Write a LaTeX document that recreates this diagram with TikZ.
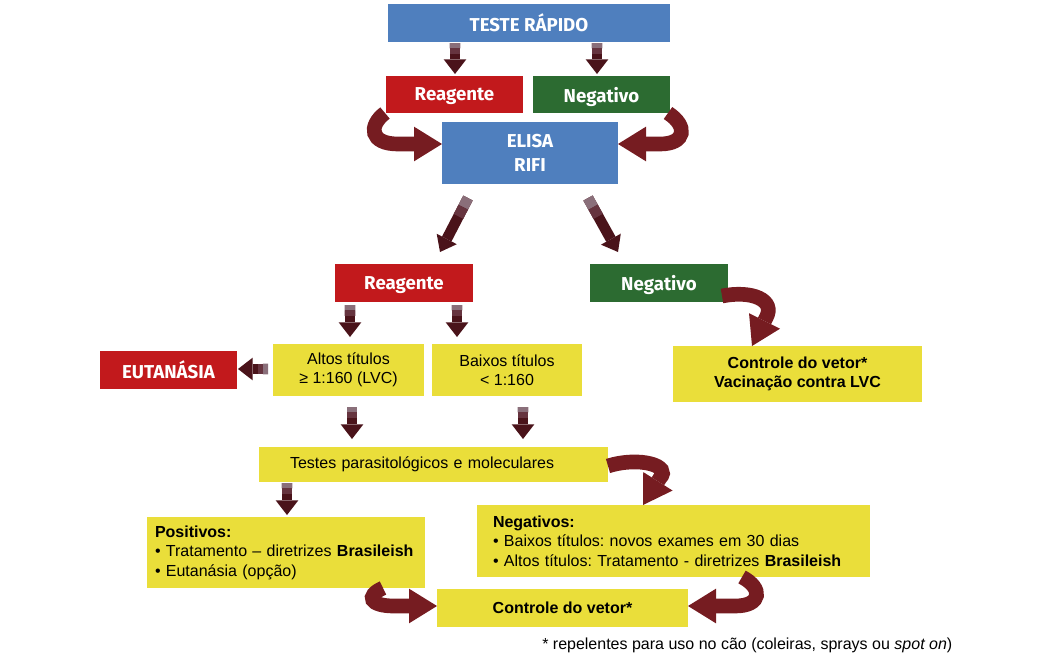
\documentclass[tikz,border=0pt]{standalone}
\usepackage{fontspec}
\setmainfont{Liberation Sans}
\newfontfamily\hfont{Fira Sans}
\usetikzlibrary{arrows.meta,calc}
\definecolor{bblue}{HTML}{4F7FBE}
\definecolor{bred}{HTML}{C2191C}
\definecolor{bgreen}{HTML}{2C6B31}
\definecolor{byellow}{HTML}{EADE3A}
\definecolor{arrd}{HTML}{4A131A}
\definecolor{arrtop}{HTML}{8A6F7A}
\definecolor{arrmid}{HTML}{66343F}
\definecolor{carr}{HTML}{761C21}
\frenchspacing
\newcommand{\mybox}[7]{\node[#6, minimum width={(#4-#2)*0.75pt}, minimum height={(#5-#3)*0.75pt}] (#1) at ({(#2+#4)/2},{(#3+#5)/2}) {#7};}
\newcommand{\sarr}[2]{\draw[sarrow] (#1) -- (#2); \draw[stemtop] (#1) -- ($(#1)!0.17!(#2)$); \draw[stemmid] ($(#1)!0.17!(#2)$) -- ($(#1)!0.34!(#2)$);}
\begin{document}
\begin{tikzpicture}[x=0.75pt,y=-0.75pt,
  hdr/.style={font=\hfont\bfseries\fontsize{14}{18}\selectfont, text=white, inner sep=0pt, outer sep=0pt, align=center},
  blueb/.style={hdr, fill=bblue},
  redb/.style={hdr, fill=bred, text depth=0pt},
  greenb/.style={hdr, fill=bgreen, text depth=0pt},
  ybox/.style={fill=byellow, font=\fontsize{12}{14.6}\selectfont, text=black, inner sep=0pt, outer sep=0pt, align=center},
  ylist/.style={ybox, align=left},
  sarrow/.style={draw=arrd, line width=8pt, -{Triangle[width=17pt,length=11pt,line width=0pt]}},
  stemtop/.style={draw=arrtop, line width=8pt},
  stemmid/.style={draw=arrmid, line width=8pt},
  carrow/.style={draw=carr, line width=11pt, -{Triangle[width=26pt,length=21pt,line width=0pt]}},
  foot/.style={font=\fontsize{12}{14}\selectfont, text=black, inner sep=0pt, anchor=west}
]
\useasboundingbox (0,0) rectangle (1063,661);
% boxes
\mybox{teste}{388}{4}{670}{42}{blueb}{TESTE RÁPIDO}
\mybox{reag1}{386}{76}{523}{113}{redb}{Reagente}
\mybox{neg1}{533}{76}{670}{113}{greenb}{Negativo}
\mybox{elisa}{442}{122}{618}{184}{blueb}{ELISA\\RIFI}
\mybox{reag2}{335}{264}{473}{302}{redb}{Reagente}
\mybox{neg2}{590}{264}{728}{302}{greenb}{Negativo}
\mybox{eut}{100}{351}{237}{389}{redb}{EUTANÁSIA}
\mybox{altos}{273}{344}{424}{396}{ybox}{Altos títulos\\≥ 1:160 (LVC)}
\mybox{baixos}{432}{344}{582}{396}{ybox}{Baixos títulos\\< 1:160}
\mybox{vac}{673}{346}{922}{402}{ybox, font=\bfseries\fontsize{12}{14}\selectfont}{Controle do vetor*\\Vacinação contra LVC}
\mybox{testes}{259}{447}{608}{482}{ylist, text width={287*0.75pt}}{Testes parasitológicos e moleculares}
\mybox{pos}{147}{517}{425}{588}{ylist, text width={262*0.75pt}}{\textbf{Positivos:}\\• Tratamento – diretrizes \textbf{Brasileish}\\• Eutanásia (opção)}
\mybox{negs}{477}{505}{870}{577}{ylist, text width={361*0.75pt}}{\textbf{Negativos:}\\• Baixos títulos: novos exames em 30 dias\\• Altos títulos: Tratamento - diretrizes \textbf{Brasileish}}
\mybox{ctrl}{437}{589}{688}{627}{ybox, font=\bfseries\fontsize{12}{14}\selectfont}{Controle do vetor*}
\node[foot] (note) at (542,645) {* repelentes para uso no cão (coleiras, sprays ou \textit{spot on})};
% straight arrows
\coordinate (a1s) at ($(455,0|-teste.south)+(0,1)$);
\coordinate (a1e) at ($(455,0|-reag1.north)+(0,-2)$);
\coordinate (a2s) at ($(597,0|-teste.south)+(0,1)$);
\coordinate (a2e) at ($(597,0|-neg1.north)+(0,-2)$);
\coordinate (a3s) at ($(elisa.south)+(-62,14)$);
\coordinate (a3e) at ($(reag2.north)+(36,-12)$);
\coordinate (a4s) at ($(elisa.south)+(58,14)$);
\coordinate (a4e) at ($(neg2.north)+(-41,-12)$);
\coordinate (a5s) at ($(350,0|-reag2.south)+(0,3)$);
\coordinate (a5e) at ($(350,0|-altos.north)+(0,-7)$);
\coordinate (a6s) at ($(457,0|-reag2.south)+(0,3)$);
\coordinate (a6e) at ($(457,0|-baixos.north)+(0,-7)$);
\coordinate (a7s) at ($(altos.west)+(-5,-1)$);
\coordinate (a7e) at ($(eut.east)+(1,-1)$);
\coordinate (a8s) at ($(352,0|-altos.south)+(0,11)$);
\coordinate (a8e) at ($(352,0|-testes.north)+(0,-8)$);
\coordinate (a9s) at ($(523,0|-baixos.south)+(0,11)$);
\coordinate (a9e) at ($(523,0|-testes.north)+(0,-8)$);
\coordinate (a10s) at ($(287,0|-testes.south)+(0,1)$);
\coordinate (a10e) at ($(287,0|-pos.north)+(0,-2)$);
\sarr{a1s}{a1e}
\sarr{a2s}{a2e}
\sarr{a3s}{a3e}
\sarr{a4s}{a4e}
\sarr{a5s}{a5e}
\sarr{a6s}{a6e}
\sarr{a7s}{a7e}
\sarr{a8s}{a8e}
\sarr{a9s}{a9e}
\sarr{a10s}{a10e}
% curved arrows
\draw[carrow] (385,0|-reag1.south) .. controls (368,126) and (370,144) .. (398,144) -- (elisa.west|-0,144);
\draw[carrow] (668,0|-neg1.south) .. controls (688,126) and (686,144) .. (660,144) -- (elisa.east|-0,144);
\draw[carrow] (722,296) .. controls (752,290) and (776,300) .. (766,318) -- (752,0|-vac.north);
\draw[carrow] (testes.east|-0,466) .. controls (640,456) and (672,466) .. (660,478) -- (643,0|-negs.north);
\draw[carrow] (383,0|-pos.south) .. controls (365,596) and (370,606) .. (394,606) -- (ctrl.west|-0,606);
\draw[carrow] (742,0|-negs.south) .. controls (763,588) and (762,606) .. (735,606) -- (ctrl.east|-0,606);
\end{tikzpicture}
\end{document}
